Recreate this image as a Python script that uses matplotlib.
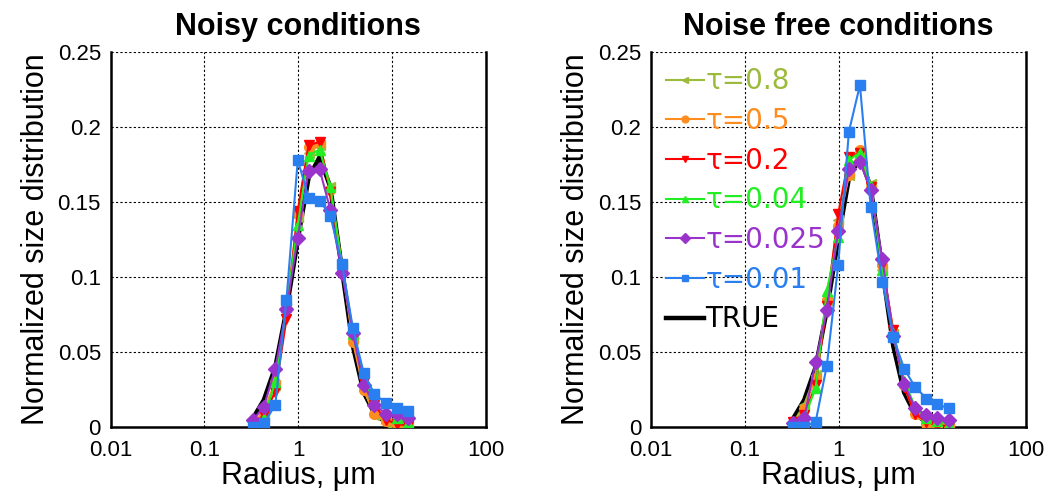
import numpy as np
import matplotlib
matplotlib.use('Agg')
import matplotlib.pyplot as plt
from matplotlib.ticker import FixedLocator, FixedFormatter

plt.rcParams['font.family'] = ['Liberation Sans', 'DejaVu Sans']

# radius bins (um)
radius = [0.33, 0.43, 0.57, 0.75, 0.99, 1.29, 1.69, 2.20, 2.93, 3.83, 5.0, 6.5, 8.65, 11.2, 14.9]

true_dist = [0.006, 0.018, 0.040, 0.078, 0.125, 0.166, 0.180, 0.160, 0.105, 0.054, 0.023, 0.009, 0.003, 0.001, 0.0003]

labels = ['τ=0.8', 'τ=0.5', 'τ=0.2', 'τ=0.04', 'τ=0.025', 'τ=0.01']
colors = ['#9cba3c', '#ff8c1f', '#ff0000', '#22ee22', '#9933cc', '#2a7ff0']
markers = ['<', 'o', 'v', '^', 'D', 's']

# noisy conditions
noisy_08 = [0.002, 0.009, 0.028, 0.080, 0.140, 0.183, 0.188, 0.160, 0.107, 0.060, 0.025, 0.008, 0.003, 0.002, 0.001]
noisy_05 = [0.002, 0.011, 0.030, 0.079, 0.143, 0.187, 0.189, 0.158, 0.108, 0.057, 0.025, 0.009, 0.004, 0.0015, 0.001]
noisy_02 = [0.001, 0.008, 0.0235, 0.072, 0.144, 0.188, 0.190, 0.157, 0.108, 0.064, 0.030, 0.0145, 0.005, 0.002, 0.001]
noisy_004 = [0.001, 0.006, 0.030, 0.080, 0.135, 0.181, 0.185, 0.160, 0.108, 0.062, 0.031, 0.018, 0.011, 0.006, 0.003]
noisy_0025 = [0.0047, 0.0135, 0.039, 0.079, 0.126, 0.171, 0.172, 0.145, 0.103, 0.063, 0.028, 0.0147, 0.009, 0.009, 0.006]
noisy_001 = [0.0002, 0.0024, 0.0147, 0.085, 0.178, 0.153, 0.151, 0.141, 0.109, 0.066, 0.036, 0.022, 0.016, 0.013, 0.011]

# noise free conditions
free_08 = [0.003, 0.015, 0.035, 0.085, 0.138, 0.168, 0.180, 0.162, 0.105, 0.062, 0.027, 0.009, 0.003, 0.002, 0.001]
free_05 = [0.002, 0.012, 0.033, 0.085, 0.134, 0.168, 0.185, 0.160, 0.108, 0.062, 0.028, 0.009, 0.002, 0.001, 0.0005]
free_02 = [0.0036, 0.008, 0.028, 0.081, 0.142, 0.180, 0.183, 0.160, 0.108, 0.065, 0.027, 0.009, 0.0036, 0.001, 0.0007]
free_004 = [0.002, 0.006, 0.026, 0.091, 0.127, 0.178, 0.183, 0.161, 0.105, 0.063, 0.031, 0.014, 0.006, 0.004, 0.002]
free_0025 = [0.003, 0.006, 0.0436, 0.078, 0.131, 0.172, 0.177, 0.158, 0.112, 0.061, 0.029, 0.013, 0.008, 0.006, 0.005]
free_001 = [0.0, 0.0, 0.0036, 0.041, 0.108, 0.197, 0.228, 0.147, 0.097, 0.060, 0.039, 0.027, 0.019, 0.0153, 0.0124]

noisy = [noisy_08, noisy_05, noisy_02, noisy_004, noisy_0025, noisy_001]
free = [free_08, free_05, free_02, free_004, free_0025, free_001]

xticks = [0.01, 0.1, 1, 10, 100]
xticklabels = ['0.01', '0.1', '1', '10', '100']
yticks = [0, 0.05, 0.1, 0.15, 0.2, 0.25]
yticklabels = ['0', '0.05', '0.1', '0.15', '0.2', '0.25']

fig = plt.figure(figsize=(10.54, 4.94), dpi=100)
ax1 = fig.add_axes([0.105, 0.1356, 0.3558, 0.759])
ax2 = fig.add_axes([0.6177, 0.1356, 0.3558, 0.759])


def draw(ax, series, title, legend=False):
    for vals, lab, c, m in zip(series, labels, colors, markers):
        ax.plot(radius, vals, color=c, marker=m, markersize=7, lw=1.5,
                label=lab, zorder=3)
    ax.plot(radius, true_dist, color='black', lw=3.2, label='TRUE', zorder=2.5)
    ax.set_xscale('log')
    ax.set_xlim(0.01, 100)
    ax.set_ylim(0, 0.25)
    ax.xaxis.set_major_locator(FixedLocator(xticks))
    ax.xaxis.set_major_formatter(FixedFormatter(xticklabels))
    ax.xaxis.set_minor_locator(FixedLocator([]))
    ax.set_yticks(yticks)
    ax.set_yticklabels(yticklabels)
    ax.tick_params(length=0, labelsize=16)
    ax.tick_params(axis='x', pad=9)
    ax.tick_params(axis='y', pad=7)
    ax.grid(True, color='black', linestyle=(0, (2, 2)), lw=0.8)
    ax.set_axisbelow(True)
    ax.spines['top'].set_visible(False)
    for s in ['left', 'bottom', 'right']:
        ax.spines[s].set_linewidth(1.8)
    ax.set_xlabel('Radius, μm', fontsize=22, labelpad=0)
    ax.set_ylabel('Normalized size distribution', fontsize=22, labelpad=5)
    ax.set_title(title, fontsize=22, fontweight='bold', pad=12)
    if legend:
        ax.legend(loc='upper left', frameon=False,
                  prop={'family': 'DejaVu Sans', 'size': 20},
                  labelcolor='linecolor', handlelength=1.35, handletextpad=0.05,
                  labelspacing=0.42, borderaxespad=0.3, borderpad=0.25,
                  markerscale=0.7)


draw(ax1, noisy, 'Noisy conditions')
draw(ax2, free, 'Noise free conditions', legend=True)

fig.savefig('out.png', dpi=100)
